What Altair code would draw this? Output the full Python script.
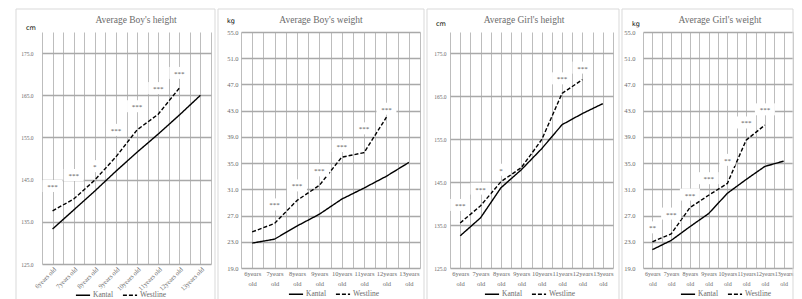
import json
import altair as alt
import pandas as pd

# ---------------- data ----------------
AGES = ["6years old", "7years old", "8years old", "9years old",
        "10years old", "11years old", "12years old", "13years old"]
SERIES = ["Kantal", "Westline"]

BOY_H_KANTAL = [133.3, 137.8, 142.3, 147.0, 151.5, 155.8, 160.3, 165.0]
BOY_H_WEST = [137.6, 140.4, 144.9, 150.4, 156.8, 160.5, 166.7]
BOY_H_SIG = ["***", "***", "*", "***", "***", "***", "***"]
BOY_H_SIG_Y = [143.5, 146.1, 148.2, 156.8, 162.4, 166.7, 170.3]

BOY_W_KANTAL = [22.8, 23.4, 25.4, 27.2, 29.5, 31.2, 33.0, 35.1]
BOY_W_WEST = [24.5, 25.8, 29.3, 31.6, 35.9, 36.6, 42.0]
BOY_W_SIG = ["", "***", "***", "***", "***", "***", "***"]
BOY_W_SIG_Y = [None, 28.7, 31.6, 33.9, 37.6, 40.3, 43.3]

GIRL_H_KANTAL = [132.5, 136.7, 143.7, 147.9, 152.8, 158.4, 161.0, 163.3]
GIRL_H_WEST = [135.5, 139.5, 145.1, 148.4, 154.9, 165.7, 168.9]
GIRL_H_SIG = ["***", "***", "*", "", "", "***", "***"]
GIRL_H_SIG_Y = [139.7, 143.5, 147.9, None, None, 169.2, 171.7]

GIRL_W_KANTAL = [21.8, 23.2, 25.3, 27.3, 30.4, 32.5, 34.5, 35.3]
GIRL_W_WEST = [23.0, 24.2, 28.2, 30.1, 31.9, 38.5, 40.8]
GIRL_W_SIG = ["**", "***", "***", "***", "**", "***", "***"]
GIRL_W_SIG_Y = [25.2, 27.3, 30.2, 32.7, 35.5, 41.2, 43.2]

HEIGHT_TICKS = [125.0, 135.0, 145.0, 155.0, 165.0, 175.0]
WEIGHT_TICKS = [19.0, 23.0, 27.0, 31.0, 35.0, 39.0, 43.0, 47.0, 51.0, 55.0]

# ---------------- style ----------------
SERIF = "Liberation Serif"
SANS = "DejaVu Sans"
GRAY_TXT = "#6b6b6b"
FRAME = "#d9d9d9"
BOX_PATHS = {
    "*": "M-0.45,-0.6L0.45,-0.6L0.45,0.6L-0.45,0.6Z",
    "**": "M-0.8,-0.6L0.8,-0.6L0.8,0.6L-0.8,0.6Z",
    "***": "M-1,-0.6L1,-0.6L1,0.6L-1,0.6Z",
}


def panel(title, unit, kantal, west, sig, sig_y, ydomain, yticks, w, h,
          dl, dr, rotate, legend_x, legend_y, title_x, unit_xy, ylab_pad, ylab_size,
          xlab_size=6.5):
    rows = [{"idx": i, "value": v, "series": "Kantal"} for i, v in enumerate(kantal)]
    rows += [{"idx": i, "value": v, "series": "Westline"} for i, v in enumerate(west)]
    lines_df = pd.DataFrame(rows)
    ann_df = pd.DataFrame([{"idx": i, "y": y, "txt": t}
                           for i, (t, y) in enumerate(zip(sig, sig_y)) if t])

    arr = json.dumps(AGES)
    xvals = [k / 2 - 0.5 for k in range(2 * len(AGES) + 1)]
    if rotate:
        lab_expr = f"datum.value % 1 === 0 ? {arr}[datum.value] : ''"
        xaxis = alt.Axis(values=xvals, labelExpr=lab_expr, labelAngle=315,
                         labelAlign="right", labelBaseline="top", labelPadding=2,
                         labelFont=SERIF, labelFontSize=6.5, labelColor=GRAY_TXT,
                         labelOverlap=False, labelFlush=False, ticks=False,
                         domain=False, grid=True, gridColor="#bdbdbd", gridWidth=1,
                         title=None)
    else:
        lab_expr = f"datum.value % 1 === 0 ? split({arr}[datum.value], ' ') : ''"
        xaxis = alt.Axis(values=xvals, labelExpr=lab_expr, labelAngle=0,
                         labelAlign="center", labelBaseline="top", labelPadding=2,
                         labelFont=SERIF, labelFontSize=xlab_size, labelLineHeight=10,
                         labelColor=GRAY_TXT, labelOverlap=False, labelFlush=False,
                         ticks=False, domain=False, grid=True, gridColor="#bdbdbd",
                         gridWidth=1, title=None)
    yaxis = alt.Axis(values=yticks, format=".1f", labelFont=SERIF,
                     labelFontSize=ylab_size, labelColor=GRAY_TXT,
                     labelPadding=ylab_pad, ticks=False, domain=False, grid=True,
                     gridColor="#a9a9a9", gridWidth=1.4, title=None)
    xs = alt.Scale(domain=[-0.5, len(AGES) - 0.5], nice=False, zero=False)
    ys = alt.Scale(domain=ydomain, nice=False, zero=False)

    one = alt.Data(values=[{"k": 1}])
    frame = alt.Chart(one).mark_rect(fill="transparent", stroke=FRAME, strokeWidth=1).encode(
        x=alt.value(-dl), x2=alt.value(w + dr), y=alt.value(-23), y2=alt.value(h + 62))

    lines = alt.Chart(lines_df).mark_line(color="black", strokeWidth=1.4).encode(
        x=alt.X("idx:Q", scale=xs, axis=xaxis),
        y=alt.Y("value:Q", scale=ys, axis=yaxis),
        strokeDash=alt.StrokeDash(
            "series:N",
            scale=alt.Scale(domain=SERIES, range=[[1, 0], [4, 2]]),
            legend=alt.Legend(orient="none", legendX=legend_x, legendY=legend_y,
                              direction="horizontal", title=None, symbolType="stroke",
                              symbolSize=200, symbolStrokeWidth=1.6,
                              symbolStrokeColor="black", labelFont=SERIF,
                              labelFontSize=7.5, labelColor=GRAY_TXT, columnPadding=6,
                              labelOffset=2, padding=0)),
        detail="series:N",
    )

    boxes = alt.Chart(ann_df).mark_point(filled=True, fill="white", opacity=1,
                                          strokeWidth=0, size=400).encode(
        x=alt.X("idx:Q", scale=xs, axis=xaxis),
        y=alt.Y("y:Q", scale=ys, axis=yaxis),
        shape=alt.Shape("txt:N", scale=alt.Scale(domain=list(BOX_PATHS.keys()),
                                                 range=list(BOX_PATHS.values())),
                        legend=None),
    )
    texts = alt.Chart(ann_df).mark_text(font=SERIF, fontSize=7, color="#555555",
                                         baseline="middle", dy=1).encode(
        x=alt.X("idx:Q", scale=xs, axis=xaxis),
        y=alt.Y("y:Q", scale=ys, axis=yaxis),
        text="txt:N",
    )
    title_mark = alt.Chart(one).mark_text(text=title, font=SERIF, fontSize=9.5,
                                           color="#6b6b6b", baseline="middle").encode(
        x=alt.value(title_x), y=alt.value(-12))
    unit_mark = alt.Chart(one).mark_text(text=unit, font=SANS, fontSize=6.5,
                                          color="black", baseline="middle").encode(
        x=alt.value(unit_xy[0]), y=alt.value(unit_xy[1]))

    return alt.layer(frame, lines, boxes, texts, title_mark, unit_mark).properties(
        width=w, height=h)


p1 = panel("Average Boy's height", "cm", BOY_H_KANTAL, BOY_H_WEST, BOY_H_SIG, BOY_H_SIG_Y,
           [125, 180], HEIGHT_TICKS, 169, 232, 26, 4, True, 33, 255, 94, (-11, -4), 9, 5.5)
p2 = panel("Average Boy's weight", "kg", BOY_W_KANTAL, BOY_W_WEST, BOY_W_SIG, BOY_W_SIG_Y,
           [19, 55], WEIGHT_TICKS, 179, 236, 23, 4, False, 47, 254, 80, (-10, -11), 3, 6.5)
p3 = panel("Average Girl's height", "cm", GIRL_H_KANTAL, GIRL_H_WEST, GIRL_H_SIG, GIRL_H_SIG_Y,
           [125, 180], HEIGHT_TICKS, 163, 236, 23, 6, False, 34, 254, 74, (-9, -8), 4, 5.5)
p4 = panel("Average Girl's weight", "kg", GIRL_W_KANTAL, GIRL_W_WEST, GIRL_W_SIG, GIRL_W_SIG_Y,
           [19, 55], WEIGHT_TICKS, 150, 236, 21, 0, False, 37, 254, 77, (-7, -8), 8, 6.5, 6)

chart = alt.hconcat(p1, p2, p3, p4, spacing=30, bounds="flush").resolve_scale(
    strokeDash="independent", shape="independent"
).properties(
    padding={"left": 7, "top": 0, "right": 0, "bottom": 0},
    background="white",
).configure_view(stroke=None)

chart.save("out.html", embed_options={"renderer": "svg", "actions": False})
